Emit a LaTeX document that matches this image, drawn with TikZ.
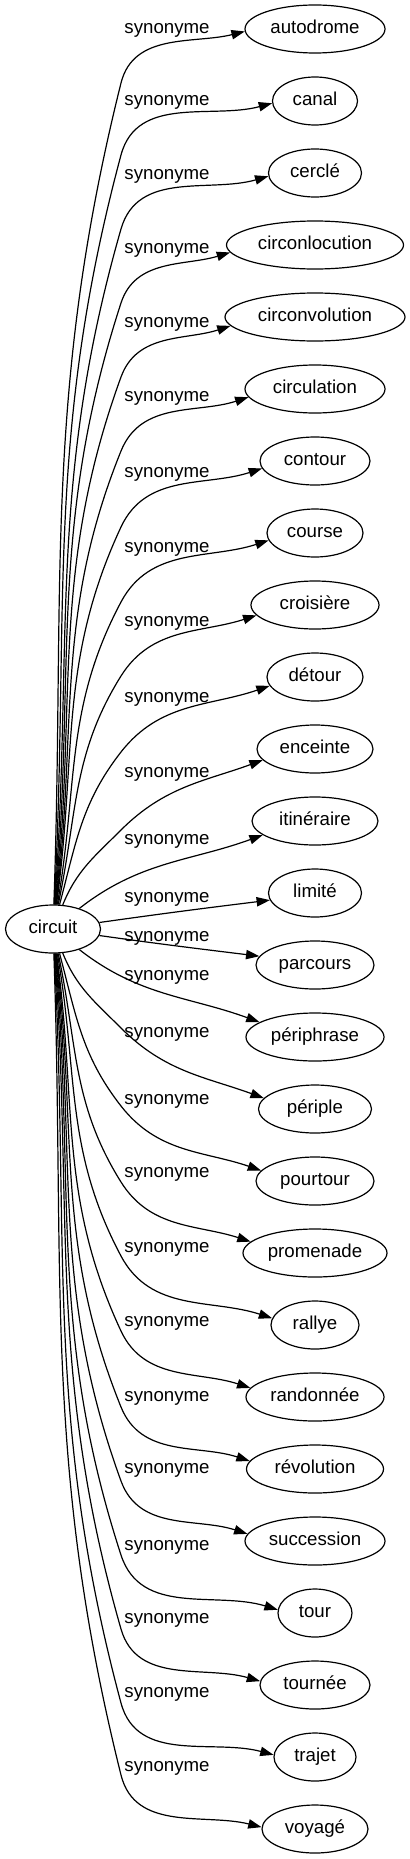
\documentclass[tikz,border=0pt]{standalone}
\usepackage{fontspec}
\setmainfont{Liberation Sans}
\usetikzlibrary{shapes.geometric,arrows.meta}
\begin{document}
\begin{tikzpicture}[x=0.75pt,y=-0.75pt,
  every node/.style={font=\fontsize{14}{16}\selectfont, text height=10pt, text depth=3pt},
  term/.style={ellipse, draw, line width=0.9pt, minimum height=36pt, inner sep=0pt},
  lab/.style={inner sep=0pt},
  link/.style={line width=0.9pt, -{Triangle[length=10pt,width=7pt]}}]
\useasboundingbox (0,0) rectangle (410,1859);
\node[term, minimum width=71.25pt] (circuit) at (53,929) {circuit};
\foreach \i/\w/\t in {0/105/autodrome, 1/63.75/canal, 2/69.75/cerclé,
  3/132.75/circonlocution, 4/135/circonvolution, 5/105/circulation,
  6/82.5/contour, 7/72/course, 8/96/croisière, 9/72/détour,
  10/87/enceinte, 11/94.5/itinéraire, 12/69.75/limité, 13/88.5/parcours,
  14/103.5/périphrase, 15/84.75/périple, 16/88.5/pourtour, 17/108/promenade,
  18/66/rallye, 19/103.5/randonnée, 20/102.75/révolution, 21/105/succession,
  22/55.5/tour, 23/82.5/tournée, 24/61.5/trajet, 25/79.5/voyagé}
  \node[term, minimum width=\w pt] (n\i) at (315,{29+72*\i}) {\t};
\foreach \i/\ly in {0/29, 1/101, 2/175, 3/249, 4/323, 5/397, 6/473, 7/548,
  8/622, 9/698, 10/773, 11/840, 12/898, 13/937, 14/976, 15/1033, 16/1100,
  17/1173, 18/1248, 19/1322, 20/1397, 21/1469, 22/1546, 23/1619, 24/1693, 25/1767}
  \node[lab] (l\i) at (167,\ly) {synonyme};
% upper edges and their mirrored lower partners
\foreach \i/\wy/\aw/\o/\p/\at in {0/83/76/88/2/14, 1/155/75/87/3/15,
  2/229/74/86/4/16, 3/303/72/85/5/17, 4/377/70/84/6/18, 5/451/68/83/7/18,
  6/527/65/82/8/18, 7/602/62/80/9/18, 8/676/58/78/10/18, 9/752/52/75/11/19,
  10/830/45/68/12/20}{
  \pgfmathtruncatemacro\ainA{\aw+180}
  \pgfmathtruncatemacro\ainB{\at+180}
  \pgfmathtruncatemacro\anc{180+\p}
  \draw[link] (circuit) to[out=\o, in=\ainA] (121,\wy) to[out=\aw, in=\ainB] (n\i.\anc);
  \pgfmathtruncatemacro\j{25-\i}
  \pgfmathtruncatemacro\wyl{1858-\wy}
  \pgfmathtruncatemacro\ol{360-\o}
  \pgfmathtruncatemacro\ainAl{180-\aw}
  \pgfmathtruncatemacro\outBl{360-\aw}
  \pgfmathtruncatemacro\ainBl{180-\at}
  \pgfmathtruncatemacro\ancl{180-\p}
  \draw[link] (circuit) to[out=\ol, in=\ainAl] (121,\wyl) to[out=\outBl, in=\ainBl] (n\j.\ancl);
}
\draw[link] (circuit) to[out=38, in=200] (n11.195);
\draw[link] (circuit) to[out=322, in=160] (n14.165);
\draw[link] (circuit) to[out=8, in=187] (n12.189);
\draw[link] (circuit) to[out=352, in=173] (n13.171);
\end{tikzpicture}
\end{document}
